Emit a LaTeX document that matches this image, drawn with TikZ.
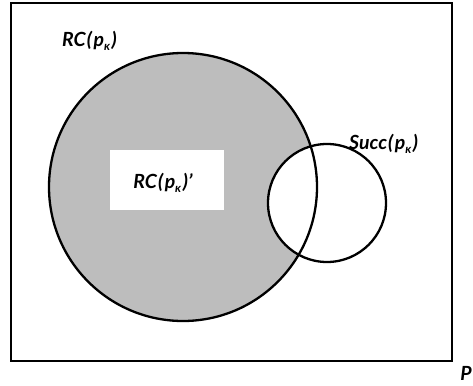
\documentclass[tikz,border=0pt]{standalone}
\usepackage{fontspec}
\setmainfont{Lato}
\begin{document}
\begin{tikzpicture}[x=1pt,y=-1pt,
  outline/.style={line width=2.3pt, draw=black},
  settext/.style={font=\fontsize{19.5}{22}\selectfont\bfseries\itshape, inner sep=0pt},
  shade/.style={fill=black!26}]
\newcommand{\kap}{\raisebox{-0.45ex}{\fontsize{12}{13}\selectfont κ}}
\newcommand{\lp}{\kern1pt(\kern1.5pt}
\newcommand{\rp}{\kern1.5pt)}
\useasboundingbox (0,0) rectangle (473,385);
% universe P
\node[draw, line width=1.8pt, minimum width=441pt, minimum height=358pt, inner sep=0pt] (univ) at (231.5,182) {};
% reachable set, shaded
\node[circle, shade, minimum size=268pt, inner sep=0pt] (rcfill) at (183,187) {};
% successor set, cut out of the shading
\node[circle, fill=white, minimum size=118pt, inner sep=0pt] (succfill) at (327,203) {};
% white box for the inner label
\node[fill=white, minimum width=114pt, minimum height=60pt, inner sep=0pt] (box) at (167,180) {};
% outlines
\node[circle, outline, minimum size=268pt, inner sep=0pt] (rc) at (183,187) {};
\node[circle, outline, minimum size=118pt, inner sep=0pt] (succ) at (327,203) {};
% labels
\node[settext, anchor=west] (lrc) at (62,41) {RC\lp p\kap\rp};
\node[settext, anchor=west] (lsucc) at (349,144) {Succ\lp p\kap\rp};
\node[settext] (lrcp) at (163,183) {RC\lp p\kap\rp\kern0.5pt'};
\node[settext] (lp) at (466,373) {P};
\end{tikzpicture}
\end{document}
